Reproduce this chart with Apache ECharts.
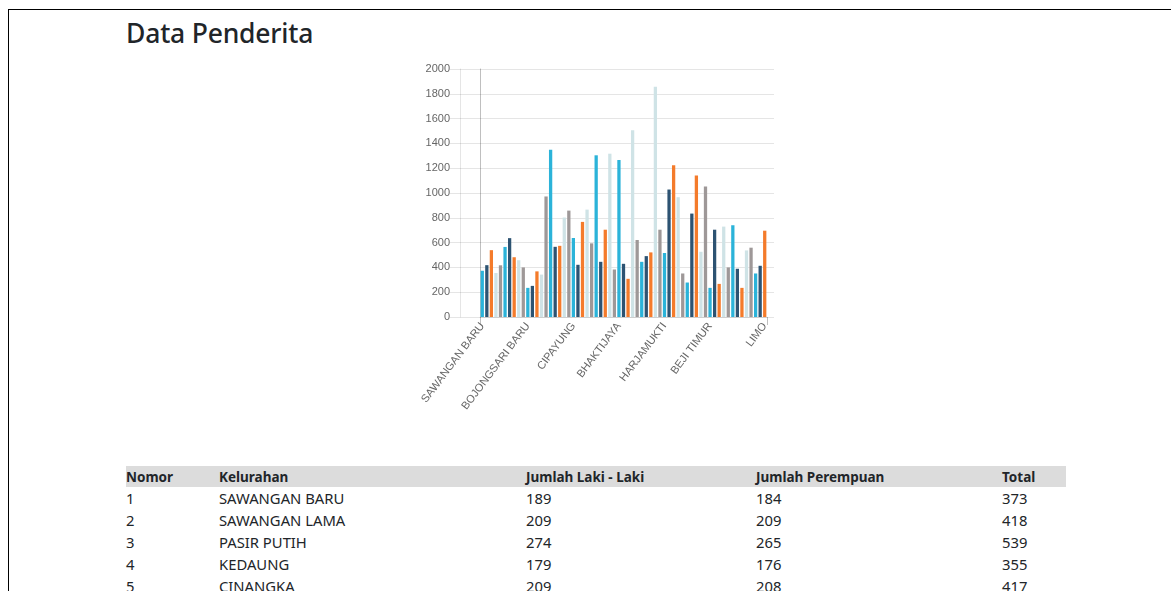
<!DOCTYPE html>
<html>
<head>
<meta charset="utf-8">
<title>Data Penderita</title>
<script src="https://cdn.jsdelivr.net/npm/echarts@6/dist/echarts.min.js"></script>
<style>
  html, body { margin: 0; padding: 0; overflow: hidden; background: #fff; }
  body { width: 1171px; height: 591px; position: relative; font-family: "Noto Sans", "Open Sans", sans-serif; color: #212529; }
  .frame { position: absolute; left: 8px; top: 9px; width: 1400px; height: 800px; border: 1px solid #000; }
  h2 { position: absolute; left: 126px; top: 15px; margin: 0; font-size: 26.5px; font-weight: 500; letter-spacing: -0.2px; }
  #mychart { position: absolute; left: 400px; top: 50px; width: 400px; height: 380px; }
  table { position: absolute; left: 126px; top: 466px; width: 940px; border-collapse: collapse; table-layout: fixed; }
  th { background: #dcdcdc; text-align: left; font-weight: 700; font-size: 13.5px; padding: 0; height: 21px; }
  td { padding: 0; height: 22px; font-size: 14.8px; line-height: 22px; }
</style>
</head>
<body>
<div class="frame"></div>
<h2>Data Penderita</h2>
<div id="mychart"></div>
<table id="tabel">
  <colgroup><col style="width:93px"><col style="width:307px"><col style="width:230px"><col style="width:246px"><col></colgroup>
  <thead>
    <tr><th>Nomor</th><th>Kelurahan</th><th>Jumlah Laki - Laki</th><th>Jumlah Perempuan</th><th>Total</th></tr>
  </thead>
  <tbody></tbody>
</table>
<script>
// kelurahan (urutan sesuai grafik)
const kelurahan = [
  'SAWANGAN BARU', 'SAWANGAN LAMA', 'PASIR PUTIH', 'KEDAUNG', 'CINANGKA', 'BEDAHAN', 'PENGASINAN',
  'SERUA', 'PONDOK PETIR', 'CURUG', 'BOJONGSARI BARU', 'BOJONGSARI LAMA', 'DUREN SERIBU', 'DUREN MEKAR',
  'DEPOK', 'DEPOK JAYA', 'PANCORAN MAS', 'MAMPANG', 'RANGKAPAN JAYA', 'RANGKAPAN JAYA BARU',
  'CIPAYUNG', 'CIPAYUNG JAYA', 'RATU JAYA', 'BOJONG PONDOK TERONG', 'PONDOK JAYA',
  'SUKMAJAYA', 'MEKARJAYA', 'ABADIJAYA', 'TIRTAJAYA', 'CISALAK', 'BHAKTIJAYA',
  'KALIMULYA', 'JATIMULYA', 'KALIBARU', 'CILODONG', 'SUKAMAJU',
  'TUGU', 'PASIR GUNUNG SELATAN', 'CISALAK PASAR', 'MEKARSARI', 'HARJAMUKTI', 'CURUG',
  'TAPOS', 'LEUWINANGGUNG', 'SUKATANI', 'SUKAMAJU BARU', 'JATIJAJAR', 'CILANGKAP', 'CIMPAEUN',
  'BEJI', 'BEJI TIMUR', 'KEMIRI MUKA', 'PONDOK CINA', 'KUKUSAN', 'TANAH BARU',
  'CINERE', 'GANDUL', 'PANGKALAN JATI', 'PANGKALAN JATI BARU',
  'KRUKUT', 'GROGOL', 'MERUYUNG', 'LIMO'
]
// total penderita per kelurahan
const totalPenderita = [
  373, 418, 539, 355, 417, 565, 636, 482, 458, 400,
  235, 251, 368, 342, 972, 1348, 566, 574, 802, 858,
  637, 421, 767, 866, 594, 1304, 445, 704, 1317, 383,
  1266, 429, 308, 1506, 621, 445, 491, 521, 1857, 704,
  516, 1028, 1223, 966, 351, 278, 834, 1142, 526, 1053,
  235, 704, 267, 729, 400, 740, 389, 235, 537, 559,
  351, 413, 696
]
const warna = ['#2bb3d9', '#2d5372', '#f47b2b', '#cfe3e6', '#9e9898']

// tabel (baris yang terlihat)
const tabelNomor = [1, 2, 3, 4, 5]
const tabelKelurahan = ['SAWANGAN BARU', 'SAWANGAN LAMA', 'PASIR PUTIH', 'KEDAUNG', 'CINANGKA']
const tabelLaki = [189, 209, 274, 179, 209]
const tabelPerempuan = [184, 209, 265, 176, 208]
const tabelTotal = [373, 418, 539, 355, 417]

const tbody = document.querySelector('#tabel tbody')
tabelNomor.forEach(function(n, i) {
  const tr = document.createElement('tr')
  ;[n, tabelKelurahan[i], tabelLaki[i], tabelPerempuan[i], tabelTotal[i]].forEach(function(v) {
    const td = document.createElement('td')
    td.textContent = v
    tr.appendChild(td)
  })
  tbody.appendChild(tr)
})

const gridLine = 'rgba(0,0,0,0.1)'
const zeroLine = 'rgba(0,0,0,0.25)'
const option = {
  animation: false,
  textStyle: { fontFamily: '"Liberation Sans", Arial, sans-serif' },
  grid: [
    { left: 80, top: 19, width: 287, height: 248 }, // batang
    { left: 60, top: 19, width: 314, height: 248 } // garis latar
  ],
  xAxis: [
    {
      type: 'category',
      gridIndex: 0,
      data: kelurahan,
      axisLine: { lineStyle: { color: gridLine } },
      axisTick: {
        show: true,
        length: 8,
        interval: function(i) { return i === 0 },
        lineStyle: { color: zeroLine }
      },
      splitLine: { show: false },
      axisLabel: {
        interval: function(i) { return (i % 10 === 0 && i <= 50) || i === 62 },
        rotate: 53,
        margin: 7,
        color: '#666',
        fontSize: 11
      }
    },
    { type: 'category', gridIndex: 1, data: [''], show: false }
  ],
  yAxis: [
    {
      type: 'value',
      gridIndex: 0,
      min: 0,
      max: 2000,
      interval: 200,
      axisLine: { show: true, lineStyle: { color: zeroLine } },
      axisTick: { show: false },
      axisLabel: { show: false },
      splitLine: { show: false }
    },
    {
      type: 'value',
      gridIndex: 1,
      min: 0,
      max: 2000,
      interval: 200,
      axisLine: { show: true, lineStyle: { color: gridLine } },
      axisTick: { show: true, length: 10, lineStyle: { color: gridLine } },
      splitLine: { lineStyle: { color: gridLine } },
      axisLabel: {
        color: '#666',
        fontSize: 11,
        margin: 10,
        formatter: function(v) { return String(v) }
      }
    }
  ],
  series: [
    {
      name: 'Total',
      type: 'bar',
      xAxisIndex: 0,
      yAxisIndex: 0,
      barCategoryGap: '28%',
      data: totalPenderita.map(function(v, i) {
        return { value: v, itemStyle: { color: warna[i % warna.length] } }
      })
    }
  ]
}
const myChart = echarts.init(document.getElementById('mychart'))
myChart.setOption(option)
</script>
</body>
</html>
